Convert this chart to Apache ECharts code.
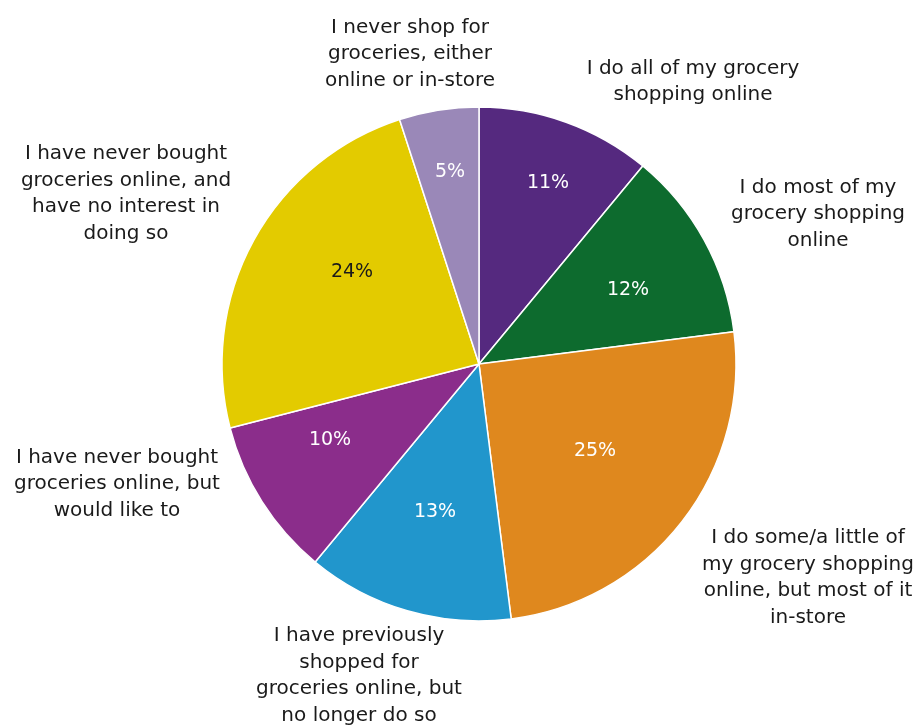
<!DOCTYPE html>
<html>
<head>
<meta charset="utf-8">
<title>Online grocery shopping habits</title>
<script src="https://cdn.jsdelivr.net/npm/echarts@6/dist/echarts.min.js"></script>
<style>
  html, body { margin: 0; padding: 0; background: #ffffff; }
  #chart { width: 920px; height: 726px; }
</style>
</head>
<body>
<div id="chart"></div>
<script>
// Answer categories, clockwise from 12 o'clock
const categories = [
  'I do all of my grocery\nshopping online',
  'I do most of my\ngrocery shopping\nonline',
  'I do some/a little of\nmy grocery shopping\nonline, but most of it\nin-store',
  'I have previously\nshopped for\ngroceries online, but\nno longer do so',
  'I have never bought\ngroceries online, but\nwould like to',
  'I have never bought\ngroceries online, and\nhave no interest in\ndoing so',
  'I never shop for\ngroceries, either\nonline or in-store'
];

// Share of respondents (%)
const shares = [11, 12, 25, 13, 10, 24, 5];

// Slice fill colours
const sliceColors = ['#55297f', '#0d6b2e', '#df881e', '#2196cc', '#8b2d8b', '#e3cb00', '#9a88b8'];
// Percentage text colours
const pctColors = ['#ffffff', '#ffffff', '#ffffff', '#ffffff', '#ffffff', '#1a1a1a', '#ffffff'];

// Label anchor points (px)
const pctLabelAt = [[548, 183], [628, 290], [595, 451], [435, 512], [330, 440], [352, 272], [450, 172]];
const nameLabelAt = [[693, 82], [818, 214], [808, 578], [359, 676], [117, 484], [126, 194], [410, 54]];

const FONT = '"DejaVu Sans", Verdana, sans-serif';
const CENTER = [479, 364];
const RADIUS = 257;

const chart = echarts.init(document.getElementById('chart'), null, { renderer: 'canvas' });

chart.setOption({
  backgroundColor: '#ffffff',
  animation: false,
  series: [
    {
      type: 'pie',
      center: CENTER,
      radius: [0, RADIUS],
      startAngle: 90,
      clockwise: true,
      silent: true,
      itemStyle: { borderColor: '#ffffff', borderWidth: 1.5 },
      label: {
        show: true,
        position: 'inside',
        fontFamily: FONT,
        fontSize: 19,
        formatter: (p) => p.value + '%'
      },
      labelLine: { show: false },
      labelLayout: (p) => ({
        x: pctLabelAt[p.dataIndex][0],
        y: pctLabelAt[p.dataIndex][1],
        align: 'center',
        verticalAlign: 'middle'
      }),
      data: shares.map((v, i) => ({
        name: categories[i],
        value: v,
        itemStyle: { color: sliceColors[i] },
        label: { color: pctColors[i] }
      }))
    },
    {
      // Category names around the pie
      type: 'pie',
      center: CENTER,
      radius: [0, RADIUS],
      startAngle: 90,
      clockwise: true,
      silent: true,
      z: 1,
      itemStyle: { color: 'rgba(0,0,0,0)', borderWidth: 0 },
      label: {
        show: true,
        position: 'outside',
        alignTo: 'none',
        overflow: 'none',
        width: 400,
        color: '#1a1a1a',
        fontFamily: FONT,
        fontSize: 20,
        lineHeight: 26.5,
        align: 'center',
        formatter: (p) => p.name
      },
      labelLine: { show: false },
      labelLayout: (p) => ({
        x: nameLabelAt[p.dataIndex][0],
        y: nameLabelAt[p.dataIndex][1],
        align: 'center',
        verticalAlign: 'middle',
        width: 400
      }),
      data: shares.map((v, i) => ({ name: categories[i], value: v }))
    }
  ]
});
</script>
</body>
</html>
